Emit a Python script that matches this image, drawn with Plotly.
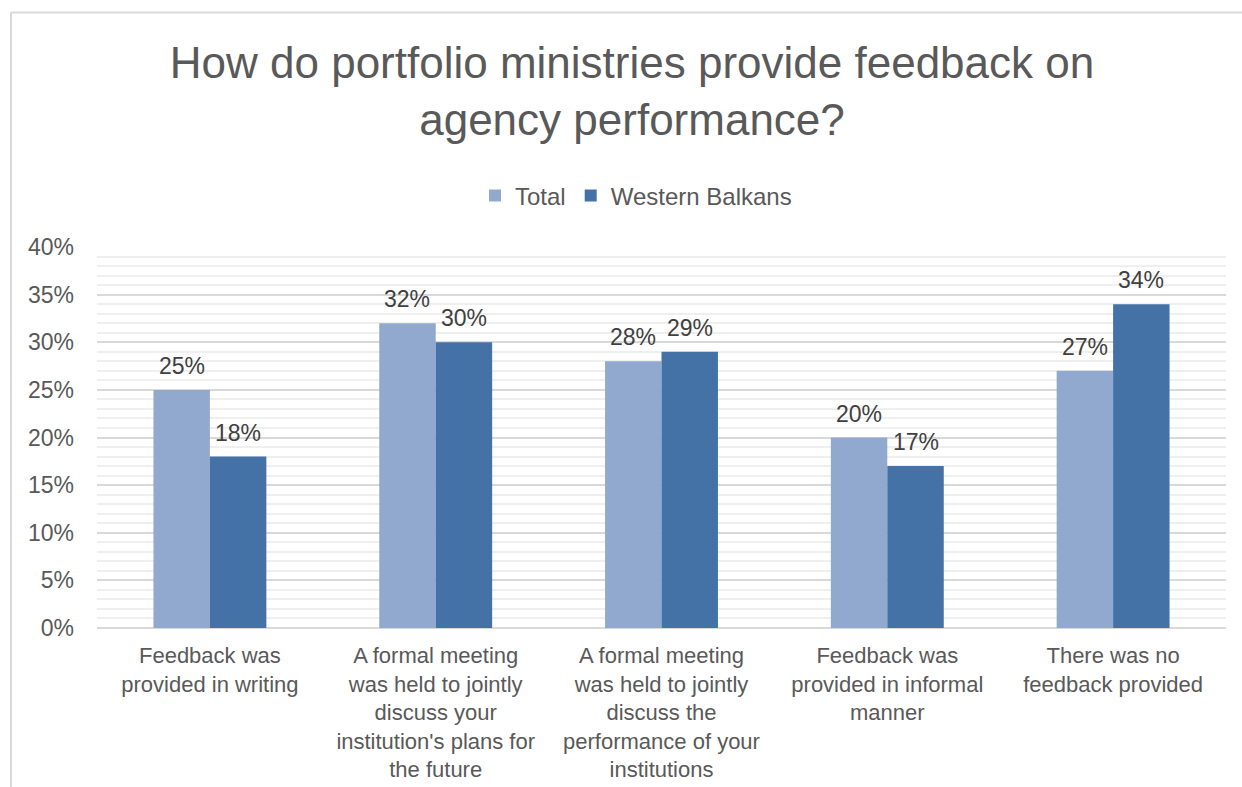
import plotly.graph_objects as go

categories = [
    "Feedback was<br>provided in writing",
    "A formal meeting<br>was held to jointly<br>discuss your<br>institution's plans for<br>the future",
    "A formal meeting<br>was held to jointly<br>discuss the<br>performance of your<br>institutions",
    "Feedback was<br>provided in informal<br>manner",
    "There was no<br>feedback provided",
]
total = [0.25, 0.32, 0.28, 0.20, 0.27]
western_balkans = [0.18, 0.30, 0.29, 0.17, 0.34]

FONT = "Liberation Sans, Arial, sans-serif"
W, H = 1242, 787
ML, MR, MT, MB = 97, 16, 247, 159
PW, PH = W - ML - MR, H - MT - MB
BAR_HALF = PW / len(categories) * 0.5 / 4  # half of one bar, in pixels


def px_x(x):
    return (x - ML) / PW


def px_y(y):
    return (H - MB - y) / PH


fig = go.Figure()
fig.add_trace(go.Bar(
    name="Total", x=categories, y=total,
    marker=dict(color="#91A9CF", line=dict(width=0)),
))
fig.add_trace(go.Bar(
    name="Western Balkans", x=categories, y=western_balkans,
    marker=dict(color="#4472A7", line=dict(width=0)),
))

# value labels above each bar
for series, shift in ((total, -BAR_HALF), (western_balkans, BAR_HALF)):
    for cat, v in zip(categories, series):
        fig.add_annotation(
            x=cat, y=v, xref="x", yref="y", text=f"{v:.0%}",
            showarrow=False, xshift=shift, yshift=9, yanchor="bottom",
            font=dict(size=23, color="#404040", family=FONT),
        )

# chart frame (left and top edges)
frame = dict(type="line", xref="paper", yref="paper",
             line=dict(color="#D9D9D9", width=2), layer="below")
fig.add_shape(x0=px_x(11), x1=px_x(11), y0=px_y(800), y1=px_y(12.5), **frame)
fig.add_shape(x0=px_x(11), x1=px_x(1260), y0=px_y(12.5), y1=px_y(12.5), **frame)

fig.update_layout(
    width=W, height=H,
    margin=dict(l=ML, r=MR, t=MT, b=MB, pad=0, autoexpand=False),
    paper_bgcolor="white", plot_bgcolor="white",
    font=dict(family=FONT, color="#595959"),
    barmode="group", bargap=0.5, bargroupgap=0,
    title=dict(
        text="How do portfolio ministries provide feedback on<br>agency performance?",
        font=dict(size=44, color="#595959", family=FONT),
        x=632 / W, xref="container", xanchor="center",
        y=1 - 78 / H, yref="container", yanchor="top",
    ),
    legend=dict(
        orientation="h", x=636 / W, xref="container", xanchor="center",
        y=1 - 196 / H, yref="container", yanchor="middle",
        font=dict(size=24, color="#595959", family=FONT),
        itemwidth=30,
    ),
    showlegend=True,
)
fig.update_xaxes(
    showgrid=False, showline=False, ticks="", automargin=False,
    tickfont=dict(size=22, color="#595959", family=FONT),
    tickangle=0, ticklabelstandoff=12,
)
fig.update_yaxes(
    range=[0, 0.4], dtick=0.05, tickformat=".0%", automargin=False,
    showgrid=True, gridcolor="#D9D9D9", gridwidth=1.5,
    minor=dict(dtick=0.01, showgrid=True, gridcolor="#EFEFEF", gridwidth=1.5),
    zeroline=True, zerolinecolor="#D9D9D9", zerolinewidth=2,
    showline=False, ticks="",
    ticklabelstandoff=22,
    tickfont=dict(size=23, color="#595959", family=FONT),
)

fig.write_html("out.html")
